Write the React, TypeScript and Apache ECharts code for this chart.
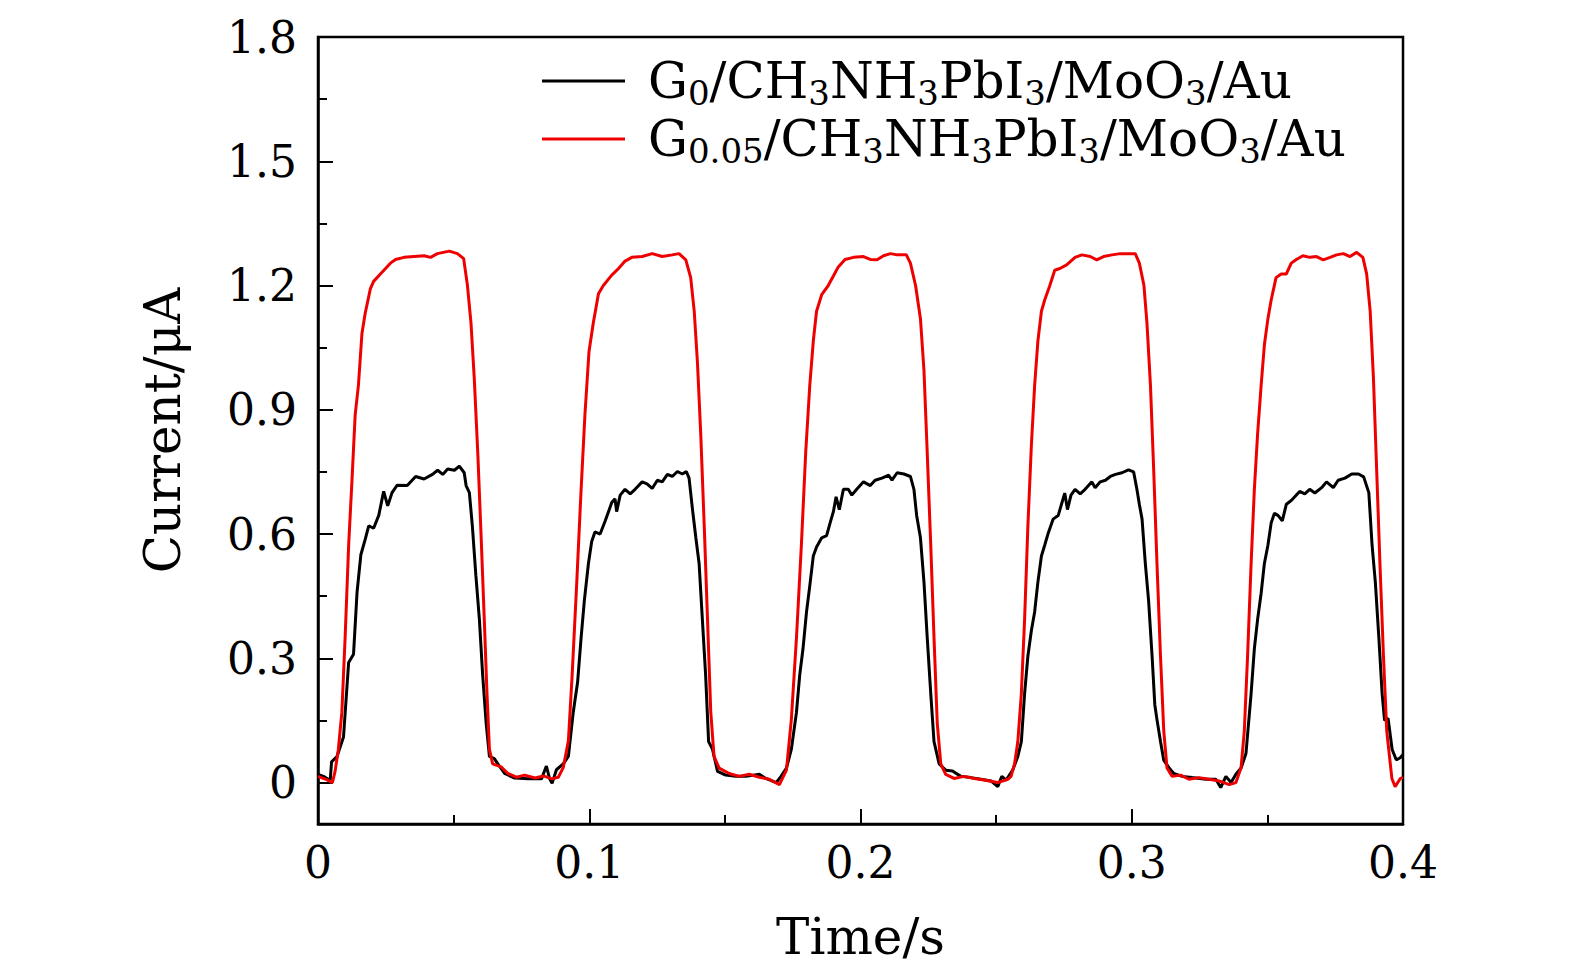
import React, { useEffect, useRef } from "react";
import * as echarts from "echarts";

// ---- data: [time (s), current (μA)] ----
const g0Cycle1: [number, number][] = [
  [0.000, 0.020], [0.002, 0.015], [0.0045, 0.005], [0.005, 0.05], [0.007, 0.063], [0.0094, 0.11], [0.0113, 0.29],
  [0.0131, 0.31], [0.0144, 0.46], [0.0158, 0.55], [0.0174, 0.587], [0.0187, 0.62], [0.0205, 0.614], [0.0224, 0.645],
  [0.0242, 0.703], [0.0257, 0.668], [0.0273, 0.70], [0.0292, 0.718], [0.0329, 0.717], [0.036, 0.739], [0.0391, 0.733],
  [0.0422, 0.744], [0.0441, 0.754], [0.046, 0.744], [0.0478, 0.757], [0.0503, 0.754], [0.0521, 0.764], [0.0539, 0.748],
  [0.0546, 0.717], [0.0558, 0.70], [0.0569, 0.62], [0.0582, 0.50], [0.0595, 0.394], [0.0607, 0.26], [0.062, 0.143],
  [0.0632, 0.063], [0.065, 0.058], [0.0663, 0.045], [0.0688, 0.022], [0.0725, 0.011], [0.0775, 0.009], [0.0824, 0.009],
  [0.0842, 0.04], [0.0854, 0.009], [0.0863, -0.002],
];
const g0Cycle2: [number, number][] = [
  [0.0879, 0.031], [0.0904, 0.045], [0.0923, 0.063], [0.0941, 0.17], [0.0957, 0.242], [0.097, 0.35], [0.0982, 0.44],
  [0.0997, 0.529], [0.1009, 0.582], [0.1021, 0.605], [0.104, 0.60], [0.1059, 0.632], [0.1083, 0.676], [0.1095, 0.685],
  [0.1101, 0.654], [0.1114, 0.694], [0.1132, 0.708], [0.1151, 0.697], [0.1169, 0.708], [0.1195, 0.726], [0.1213, 0.721],
  [0.1232, 0.71], [0.1251, 0.73], [0.1269, 0.726], [0.1288, 0.744], [0.1306, 0.739], [0.1325, 0.751], [0.1343, 0.745],
  [0.1358, 0.751], [0.1368, 0.735], [0.138, 0.663], [0.1393, 0.591], [0.1405, 0.529], [0.1417, 0.394], [0.1429, 0.26],
  [0.144, 0.099], [0.1454, 0.081], [0.1473, 0.027], [0.1503, 0.018], [0.154, 0.015], [0.1577, 0.015], [0.1627, 0.02],
  [0.1651, 0.01], [0.1689, 0.0], [0.1707, 0.015],
];
const g0Cycle3: [number, number][] = [
  [0.1727, 0.035], [0.1745, 0.08], [0.1764, 0.17], [0.1776, 0.26], [0.1788, 0.323], [0.1801, 0.412], [0.1813, 0.475],
  [0.1826, 0.547], [0.1838, 0.569], [0.1857, 0.591], [0.1875, 0.596], [0.1888, 0.627], [0.19, 0.654], [0.191, 0.69],
  [0.1922, 0.659], [0.1937, 0.708], [0.1955, 0.708], [0.1968, 0.694], [0.1986, 0.708], [0.2011, 0.726], [0.2036, 0.717],
  [0.2054, 0.73], [0.2079, 0.735], [0.2104, 0.742], [0.2116, 0.73], [0.2135, 0.748], [0.216, 0.745], [0.2184, 0.739],
  [0.2197, 0.708], [0.2207, 0.645], [0.2221, 0.591], [0.2234, 0.484], [0.2246, 0.35], [0.2259, 0.215], [0.2271, 0.099],
  [0.229, 0.045], [0.2314, 0.03], [0.2339, 0.028], [0.237, 0.015], [0.2407, 0.012], [0.2444, 0.008], [0.2481, 0.004],
  [0.2506, -0.01], [0.2521, 0.015], [0.2537, 0.006],
];
const g0Cycle4: [number, number][] = [
  [0.2561, 0.03], [0.258, 0.063], [0.2593, 0.099], [0.2605, 0.215], [0.2617, 0.305], [0.263, 0.367], [0.2642, 0.412],
  [0.2654, 0.484], [0.2667, 0.547], [0.2679, 0.573], [0.2691, 0.60], [0.271, 0.636], [0.2729, 0.645], [0.2741, 0.672],
  [0.2753, 0.699], [0.2763, 0.659], [0.2776, 0.694], [0.2791, 0.708], [0.281, 0.697], [0.2828, 0.708], [0.2853, 0.726],
  [0.2865, 0.712], [0.2884, 0.726], [0.2903, 0.73], [0.2921, 0.739], [0.294, 0.744], [0.2964, 0.748], [0.2988, 0.755],
  [0.3007, 0.75], [0.3019, 0.708], [0.3028, 0.672], [0.3038, 0.636], [0.305, 0.529], [0.3062, 0.44], [0.3075, 0.305],
  [0.3085, 0.188], [0.3093, 0.152], [0.3106, 0.099], [0.3118, 0.054], [0.3137, 0.036], [0.3155, 0.022], [0.3186, 0.015],
  [0.3223, 0.012], [0.3273, 0.008], [0.331, 0.008], [0.3328, -0.012], [0.3347, 0.015], [0.3366, 0.0], [0.3384, 0.02],
];
const g0Cycle5: [number, number][] = [
  [0.3403, 0.035], [0.3421, 0.07], [0.344, 0.215], [0.3452, 0.323], [0.3464, 0.394], [0.3477, 0.457], [0.3489, 0.529],
  [0.3502, 0.573], [0.3514, 0.627], [0.3526, 0.65], [0.3539, 0.645], [0.3555, 0.632], [0.357, 0.672], [0.3588, 0.681],
  [0.3601, 0.69], [0.3619, 0.703], [0.3638, 0.697], [0.3656, 0.708], [0.3675, 0.699], [0.37, 0.712], [0.3718, 0.726],
  [0.3743, 0.712], [0.3761, 0.73], [0.3786, 0.735], [0.3811, 0.745], [0.3836, 0.745], [0.3855, 0.738], [0.3874, 0.70],
  [0.3886, 0.573], [0.3898, 0.484], [0.3911, 0.35], [0.3923, 0.215], [0.3932, 0.15], [0.3945, 0.155], [0.396, 0.08],
  [0.3975, 0.055], [0.399, 0.06], [0.4, 0.068],
];

const g005Cycle1: [number, number][] = [
  [0.000, 0.015], [0.0032, 0.007], [0.0053, 0.0], [0.0063, 0.027], [0.0075, 0.08], [0.0088, 0.17], [0.01, 0.35],
  [0.0113, 0.573], [0.0125, 0.726], [0.0137, 0.887], [0.0149, 0.959], [0.0162, 1.084], [0.0174, 1.133], [0.0193, 1.192],
  [0.0205, 1.21], [0.023, 1.228], [0.0249, 1.241], [0.0267, 1.254], [0.0286, 1.263], [0.0317, 1.268], [0.0354, 1.27],
  [0.0391, 1.272], [0.0415, 1.268], [0.044, 1.277], [0.0484, 1.283], [0.0514, 1.277], [0.0537, 1.265], [0.0551, 1.2],
  [0.0564, 1.11], [0.0576, 0.977], [0.0589, 0.797], [0.0601, 0.60], [0.0613, 0.394], [0.0623, 0.215], [0.0632, 0.08],
  [0.0644, 0.045], [0.0675, 0.038], [0.07, 0.022], [0.0731, 0.013], [0.0762, 0.018], [0.08, 0.011], [0.0831, 0.016],
  [0.0862, 0.009], [0.0886, 0.013],
];
const g005Cycle2: [number, number][] = [
  [0.0904, 0.036], [0.0923, 0.1], [0.0937, 0.26], [0.0954, 0.484], [0.097, 0.708], [0.0984, 0.887], [0.0999, 1.04],
  [0.1015, 1.11], [0.1034, 1.18], [0.1052, 1.2], [0.1083, 1.225], [0.1108, 1.241], [0.1132, 1.259], [0.1157, 1.268],
  [0.1195, 1.27], [0.1232, 1.277], [0.1269, 1.27], [0.1306, 1.274], [0.1331, 1.277], [0.1356, 1.262], [0.1374, 1.219],
  [0.1387, 1.138], [0.1399, 1.013], [0.1411, 0.842], [0.1424, 0.618], [0.1436, 0.394], [0.1448, 0.17], [0.146, 0.063],
  [0.1479, 0.035], [0.1516, 0.022], [0.1553, 0.015], [0.159, 0.02], [0.1627, 0.013], [0.1664, 0.008], [0.1701, -0.005],
];
const g005Cycle3: [number, number][] = [
  [0.1727, 0.03], [0.1745, 0.152], [0.1764, 0.35], [0.1782, 0.573], [0.1798, 0.797], [0.1813, 0.959], [0.1826, 1.066],
  [0.1838, 1.138], [0.1857, 1.178], [0.1881, 1.2], [0.19, 1.223], [0.1918, 1.245], [0.1943, 1.263], [0.1974, 1.268],
  [0.2011, 1.27], [0.2036, 1.263], [0.2061, 1.262], [0.2085, 1.272], [0.211, 1.277], [0.2135, 1.274], [0.2169, 1.274],
  [0.2184, 1.254], [0.2203, 1.2], [0.2221, 1.12], [0.2234, 0.995], [0.2246, 0.797], [0.2259, 0.573], [0.2271, 0.35],
  [0.2283, 0.143], [0.2296, 0.045], [0.2314, 0.02], [0.2345, 0.01], [0.2382, 0.015], [0.2419, 0.01], [0.2456, 0.006],
  [0.2506, 0.0], [0.2543, 0.008],
];
const g005Cycle4: [number, number][] = [
  [0.2555, 0.015], [0.2568, 0.045], [0.258, 0.099], [0.2593, 0.215], [0.2605, 0.394], [0.2617, 0.618], [0.263, 0.815],
  [0.2642, 0.959], [0.2654, 1.066], [0.2667, 1.138], [0.2679, 1.165], [0.2698, 1.2], [0.2716, 1.237], [0.2735, 1.241],
  [0.276, 1.25], [0.2791, 1.268], [0.2816, 1.274], [0.2847, 1.27], [0.2871, 1.262], [0.2896, 1.27], [0.2927, 1.274],
  [0.2958, 1.277], [0.299, 1.277], [0.3013, 1.277], [0.3028, 1.254], [0.3045, 1.2], [0.3056, 1.11], [0.3069, 0.959],
  [0.3081, 0.753], [0.3093, 0.529], [0.3106, 0.305], [0.3118, 0.125], [0.313, 0.035], [0.3149, 0.015], [0.318, 0.018],
  [0.3211, 0.008], [0.3248, 0.012], [0.3285, 0.008], [0.3322, 0.004], [0.3359, -0.005], [0.3384, 0.0],
];
const g005Cycle5: [number, number][] = [
  [0.3403, 0.036], [0.3415, 0.125], [0.3427, 0.305], [0.344, 0.529], [0.3452, 0.708], [0.3464, 0.842], [0.3477, 0.959],
  [0.3489, 1.057], [0.3502, 1.12], [0.3514, 1.165], [0.3532, 1.219], [0.3551, 1.228], [0.357, 1.228], [0.3588, 1.254],
  [0.3607, 1.263], [0.3631, 1.272], [0.3656, 1.268], [0.3681, 1.27], [0.3706, 1.262], [0.3731, 1.268], [0.3755, 1.274],
  [0.378, 1.277], [0.3805, 1.27], [0.3829, 1.28], [0.3852, 1.268], [0.3866, 1.228], [0.3879, 1.138], [0.3891, 0.977],
  [0.3903, 0.753], [0.3915, 0.529], [0.3928, 0.305], [0.394, 0.125], [0.3959, 0.01], [0.3971, -0.01], [0.399, 0.01],
  [0.4, 0.012],
];

const seriesNames = ["G0/CH3NH3PbI3/MoO3/Au", "G0.05/CH3NH3PbI3/MoO3/Au"];
const legendRich: Record<string, string> = {
  "G0/CH3NH3PbI3/MoO3/Au": "{m|G}{s|0}{m|/CH}{s|3}{m|NH}{s|3}{m|PbI}{s|3}{m|/MoO}{s|3}{m|/Au}",
  "G0.05/CH3NH3PbI3/MoO3/Au": "{m|G}{s|0.05}{m|/CH}{s|3}{m|NH}{s|3}{m|PbI}{s|3}{m|/MoO}{s|3}{m|/Au}",
};
const yMajorTicks = [0, 0.3, 0.6, 0.9, 1.2, 1.5, 1.8];
const yMinorTicks = [0.15, 0.45, 0.75, 1.05, 1.35, 1.65];

const FONT = "DejaVu Serif";

export default function App() {
  const ref = useRef<HTMLDivElement>(null);
  useEffect(() => {
    if (!ref.current) return;
    const chart = echarts.init(ref.current, undefined, { renderer: "svg" });
    const g0 = [...g0Cycle1, ...g0Cycle2, ...g0Cycle3, ...g0Cycle4, ...g0Cycle5];
    const g005 = [...g005Cycle1, ...g005Cycle2, ...g005Cycle3, ...g005Cycle4, ...g005Cycle5];
    chart.setOption({
      animation: false,
      backgroundColor: "#ffffff",
      grid: {
        left: 318, top: 37, width: 1085, height: 787,
        show: true, borderColor: "#000", borderWidth: 2.5, backgroundColor: "transparent",
      },
      legend: {
        orient: "vertical",
        left: 537,
        top: 51,
        itemWidth: 83,
        itemHeight: 3,
        itemGap: 4,
        icon: "rect",
        data: seriesNames,
        formatter: (name: string) => legendRich[name] || name,
        textStyle: {
          fontFamily: FONT,
          color: "#000",
          rich: {
            m: { fontFamily: FONT, fontSize: 50, lineHeight: 58, color: "#000", verticalAlign: "middle" },
            s: { fontFamily: FONT, fontSize: 34, lineHeight: 34, color: "#000", verticalAlign: "bottom" },
          },
          padding: [0, 0, 0, 18],
        },
      },
      xAxis: {
        type: "value",
        min: 0,
        max: 0.4,
        interval: 0.1,
        name: "Time/s",
        nameLocation: "middle",
        nameGap: 88,
        nameTextStyle: { fontFamily: FONT, fontSize: 50, color: "#000" },
        axisLine: { show: true, onZero: false, lineStyle: { color: "#000", width: 2.5 } },
        axisTick: { show: true, inside: true, length: 15, lineStyle: { color: "#000", width: 2 } },
        minorTick: { show: true, splitNumber: 2, length: 9, lineStyle: { color: "#000", width: 2 } },
        axisLabel: { fontFamily: FONT, fontSize: 44, color: "#000", margin: 16 },
        splitLine: { show: false },
        minorSplitLine: { show: false },
      },
      yAxis: [
        {
          type: "value",
          min: -0.1,
          max: 1.8,
          name: "Current/μA",
          nameLocation: "middle",
          nameGap: 130,
          nameRotate: 90,
          nameTextStyle: { fontFamily: FONT, fontSize: 50, color: "#000" },
          axisLine: { show: true, onZero: false, lineStyle: { color: "#000", width: 2.5 } },
          axisTick: { show: true, inside: true, length: 15, customValues: yMajorTicks, lineStyle: { color: "#000", width: 2 } },
          axisLabel: {
            fontFamily: FONT, fontSize: 44, color: "#000", margin: 21,
            customValues: yMajorTicks,
            formatter: (v: number) => (Math.abs(v) < 1e-9 ? "0" : v.toFixed(1)),
          },
          splitLine: { show: false },
        },
        {
          type: "value",
          min: -0.1,
          max: 1.8,
          position: "left",
          axisLine: { show: false },
          axisTick: { show: true, inside: true, length: 9, customValues: yMinorTicks, lineStyle: { color: "#000", width: 2 } },
          axisLabel: { show: false },
          splitLine: { show: false },
        },
      ],
      series: [
        {
          name: seriesNames[0],
          type: "line",
          data: g0,
          symbol: "none",
          lineStyle: { color: "#000000", width: 3 },
          itemStyle: { color: "#000000" },
          z: 2,
        },
        {
          name: seriesNames[1],
          type: "line",
          data: g005,
          symbol: "none",
          lineStyle: { color: "#ee0000", width: 3 },
          itemStyle: { color: "#ee0000" },
          z: 3,
        },
      ],
    });
    return () => chart.dispose();
  }, []);
  return (
    <div
      ref={ref}
      style={{ position: "fixed", left: 0, top: 0, width: 1575, height: 974, background: "#fff" }}
    />
  );
}
